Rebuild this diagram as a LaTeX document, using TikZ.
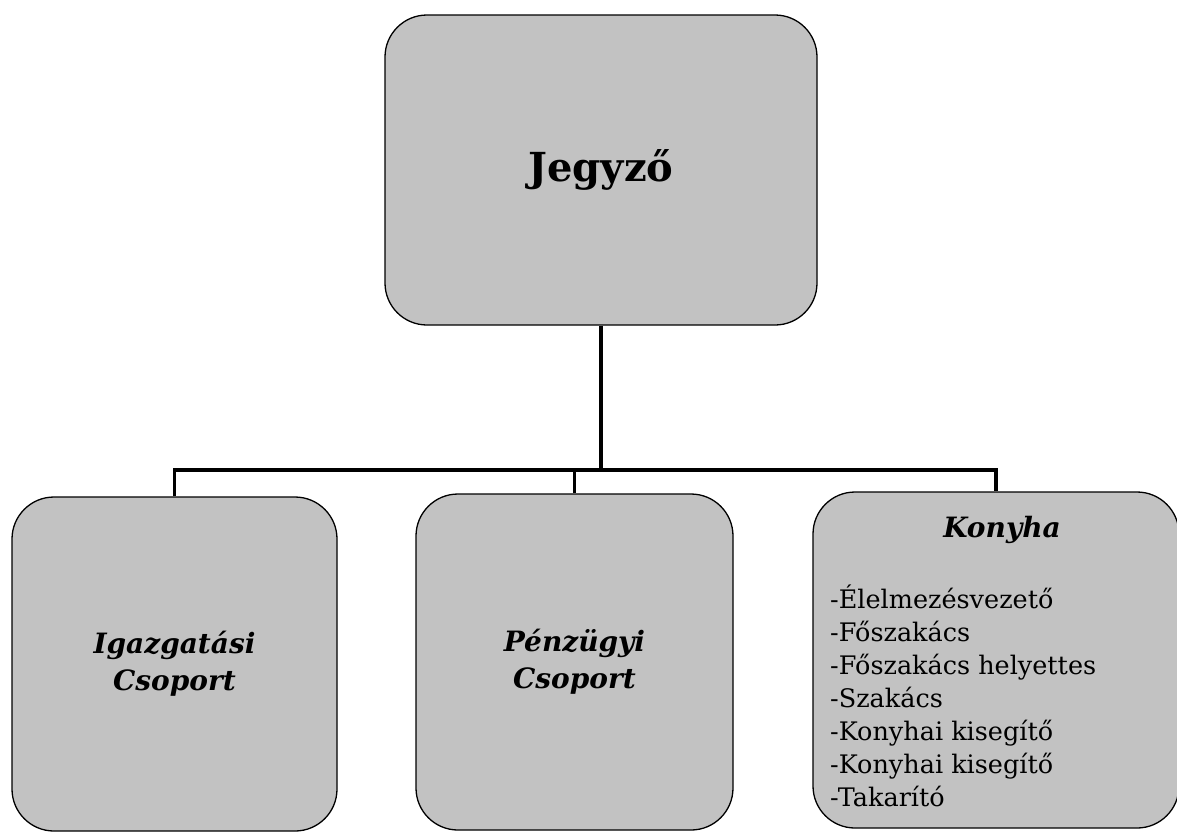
\documentclass[tikz,border=0pt]{standalone}
\usepackage{fontspec}
\setmainfont{DejaVu Serif}
\usetikzlibrary{positioning}

\definecolor{boxgray}{gray}{0.76}

\tikzset{
  unit/.style={draw,line width=1.3pt,fill=boxgray,rectangle,rounded corners=42pt,inner sep=0pt},
  link/.style={line width=3.5pt},
  grouptext/.style={font=\fontsize{28}{37}\selectfont\bfseries\itshape,align=center}
}

\begin{document}
\begin{tikzpicture}[x=1pt,y=-1pt]
\useasboundingbox (0,0) rectangle (1177,831);

\node[unit,minimum width=432pt,minimum height=310pt,font=\fontsize{40}{44}\selectfont\bfseries] (jegyzo) at (601,170) {Jegyző};

\node[unit,minimum width=325pt,minimum height=334pt,grouptext] (igazg) at (174.5,664) {Igazgatási\\Csoport};
 \node[unit,minimum width=317pt,minimum height=336pt,grouptext] (penz) at (574.5,662) {Pénzügyi\\Csoport};
\node[unit,minimum width=366pt,minimum height=336pt] (konyha) at (996,660) {};

\node[font=\fontsize{28}{30}\selectfont\bfseries\itshape,inner sep=0pt] (kontitle) at (1002,530) {Konyha};
\node[font=\fontsize{25.5}{33}\selectfont,align=left,anchor=north west,inner sep=0pt] (konlist) at (830,585)
  {-Élelmezésvezető\\-Főszakács\\-Főszakács helyettes\\-Szakács\\-Konyhai kisegítő\\-Konyhai kisegítő\\-Takarító};

\coordinate (bus) at (601,470);
	\draw[link] (jegyzo.south) -- (bus);
\draw[link] (igazg.north) |- (bus) -| (konyha.north);
		\draw[link] (penz.north) -- (penz.north |- bus);

\end{tikzpicture}
\end{document}
